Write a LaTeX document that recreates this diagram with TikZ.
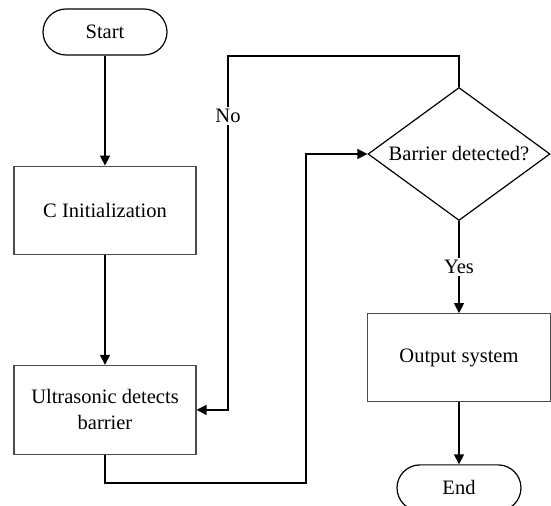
\documentclass[tikz,border=0pt]{standalone}
\usepackage{fontspec}
\setmainfont{Liberation Serif}
\usepackage{tikz}
\usetikzlibrary{arrows.meta, positioning, shapes.geometric, calc}

\begin{document}
\begin{tikzpicture}[
        node distance=55pt,
        term/.style={rectangle, draw=black, line width=0.6pt, rounded corners=11.5pt,
                    minimum width=62pt, minimum height=23pt, inner sep=0pt,
                    align=center, font=\fontsize{10.25}{13}\selectfont},
        box/.style={rectangle, draw=black!70, line width=0.6pt,
                    minimum width=91pt, minimum height=44pt,
                    align=center, font=\fontsize{10.25}{13}\selectfont},
        decide/.style={diamond, draw=black, line width=0.6pt, aspect=1.37, inner sep=0pt,
                    minimum width=91pt, minimum height=66.5pt,
                    align=center, font=\fontsize{10.25}{13}\selectfont},
        lbl/.style={fill=white, inner sep=1pt, font=\fontsize{10.25}{13}\selectfont},
        arr/.style={-{Triangle[length=5pt, width=5pt]}, line width=0.75pt, black}
      ]
        \useasboundingbox (0,0) rectangle (275.5pt,-253pt);

        \node[term] (start) at (52.5pt,-16pt) {Start};
        \node[box, below=of start] (init) {C Initialization};
        \node[box, below=of init, minimum height=44.5pt] (ultra) {Ultrasonic detects\\barrier};
        \node[decide] (dec) at (229.5pt,-77pt) {Barrier detected?};
        \node[box, below=46pt of dec, minimum width=91.5pt] (out) {Output system};
        \node[term, below=31pt of out] (end) {End};

        \coordinate (noturn) at (114pt,-28pt);
        \coordinate (lowturn) at (153pt,-241.5pt);

        \draw[arr] (start) -- (init);
        \draw[arr] (init) -- (ultra);
        \draw[arr] (ultra.south) |- (lowturn) |- (dec.west);
        \draw[arr] (dec.north) |- (noturn) |- (ultra.east);
        \node[lbl] (no) at (114pt,-58pt) {No};
        \draw[arr] (dec.south) -- (out.north)
              node[midway, lbl]{Yes};
        \draw[arr] (out) -- (end);
      \end{tikzpicture}
\end{document}
